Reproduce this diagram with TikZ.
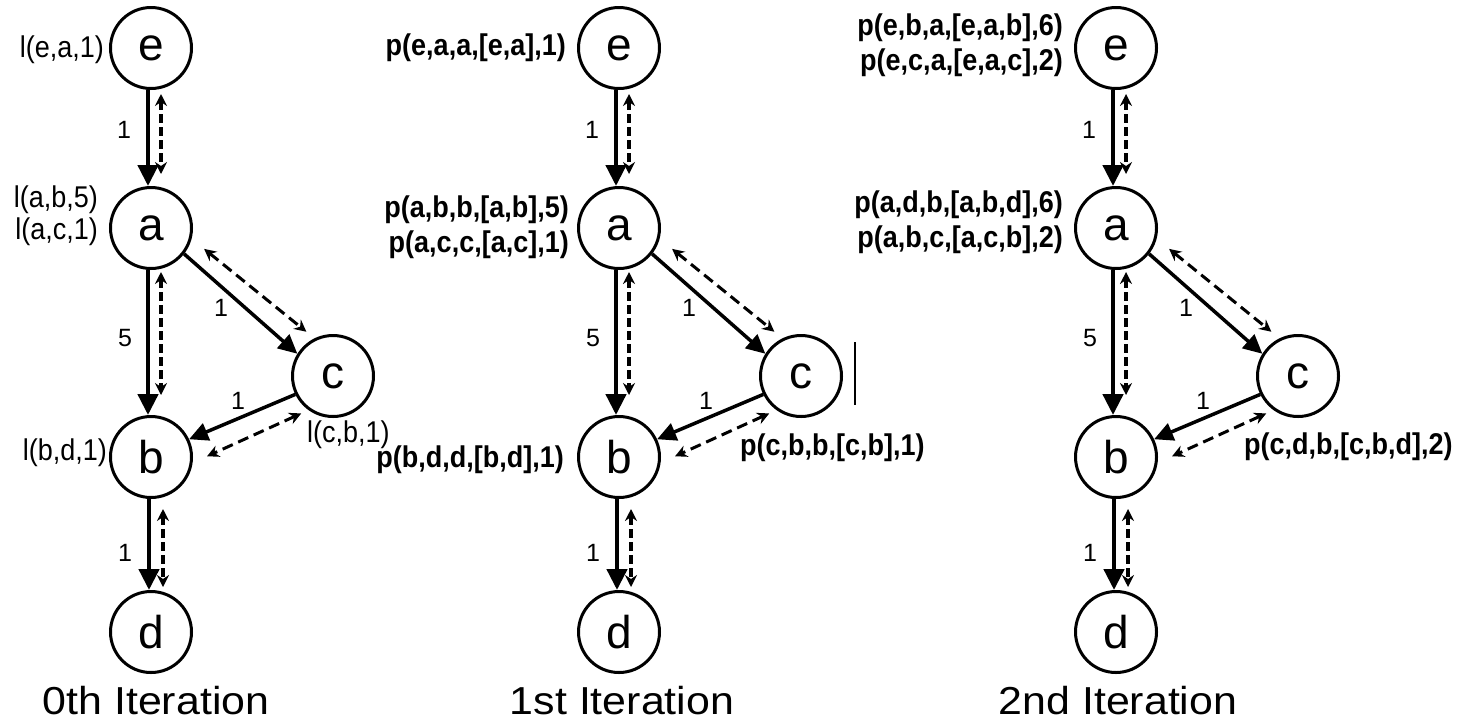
\documentclass[tikz,border=0pt]{standalone}
\usepackage{fontspec}
\setmainfont{Liberation Sans}
\newfontfamily\labfont[FakeStretch=0.9]{Liberation Sans}
\newfontfamily\titfont[FakeStretch=1.1]{Liberation Sans}
\usetikzlibrary{arrows.meta}
\tikzset{
  vtx/.style={circle, draw, line width=3pt, minimum size=81pt, inner sep=0pt,
    font=\fontsize{46}{46}\selectfont},
  solidv/.style={line width=4.5pt, -{Triangle[length=21pt,width=20pt]}},
  solidd/.style={line width=3.5pt, -{Triangle[length=19pt,width=18pt]}},
  dashv/.style={line width=3.2pt, dash pattern=on 9pt off 4pt,
    {Stealth[length=12pt,width=12pt,inset=4pt]}-{Stealth[length=12pt,width=12pt,inset=4pt]}},
  dashd/.style={line width=3pt, dash pattern=on 11pt off 6pt,
    {Stealth[length=12pt,width=12pt,inset=4pt]}-{Stealth[length=12pt,width=12pt,inset=4pt]}},
  elab/.style={inner sep=0pt, font=\fontsize{25}{25}\selectfont},
  llab/.style={inner sep=0pt, align=right, font=\labfont\fontsize{30}{32}\selectfont},
  blab/.style={inner sep=0pt, align=right, font=\labfont\bfseries\fontsize{30}{35}\selectfont},
  tit/.style={inner sep=0pt, anchor=base, font=\titfont\fontsize{39}{39}\selectfont},
}
\newcommand\drawpanel[2]{%
  \node[vtx] (#1e) at (#2,48) {e};
  \node[vtx] (#1a) at (#2,228) {a};
  \node[vtx] (#1c) at (#2+182,376) {c};
  \node[vtx] (#1b) at (#2,457) {b};
  \node[vtx] (#1d) at (#2,632) {d};
  % e -- a
  \draw[solidv] ([xshift=-3pt]#1e.south) -- ([xshift=-3pt]#1a.north);
  \draw[dashv] ([xshift=10pt,yshift=-4pt]#1e.south) -- ([xshift=10pt,yshift=12pt]#1a.north);
  % a -- b
  \draw[solidv] ([xshift=-3pt]#1a.south) -- ([xshift=-3pt]#1b.north);
  \draw[dashv] ([xshift=10pt,yshift=-2pt]#1a.south) -- ([xshift=10pt,yshift=20pt]#1b.north);
  % b -- d
  \draw[solidv] ([xshift=-2pt]#1b.south) -- ([xshift=-2pt]#1d.north);
  \draw[dashv] ([xshift=12pt,yshift=-10pt]#1b.south) -- ([xshift=12pt,yshift=3pt]#1d.north);
  % a -- c
  \draw[solidd] (#1a.-38) -- (#1c.148);
  \draw[dashd] ([xshift=20pt,yshift=5pt]#1a.-38) -- ([xshift=9pt,yshift=22pt]#1c.148);
  % c -- b
  \draw[solidd] (#1c.206) -- (#1b.25);
  \draw[dashd] ([xshift=6pt,yshift=-19pt]#1c.206) -- ([xshift=18pt,yshift=-17pt]#1b.25);
  % edge weights
  \node[elab] (#1w1) at (#2-27,130) {1};
  \node[elab] (#1w2) at (#2-26,338) {5};
  \node[elab] (#1w3) at (#2+70,308) {1};
  \node[elab] (#1w4) at (#2+87,401) {1};
  \node[elab] (#1w5) at (#2-26,553) {1};
}
\begin{document}
\begin{tikzpicture}[x=1pt,y=-1pt]
\useasboundingbox (0,0) rectangle (1464,724);
\drawpanel{P}{151}
\drawpanel{Q}{619}
\drawpanel{R}{1116}
% panel 1 labels
\node[llab, anchor=east] (Le) at (104,50) {l(e,a,1)};
\node[llab, anchor=east] (La) at (98,216) {l(a,b,5)\\l(a,c,1)};
\node[llab, anchor=east] (Lb) at (107,453) {l(b,d,1)};
\node[llab, anchor=west] (Lc) at (307,435) {l(c,b,1)};
% panel 2 labels
\node[blab, anchor=east] (Me) at (566,48) {p(e,a,a,[e,a],1)};
\node[blab, anchor=east] (Ma) at (569,227) {p(a,b,b,[a,b],5)\\p(a,c,c,[a,c],1)};
\node[blab, anchor=east] (Mb) at (564,460) {p(b,d,d,[b,d],1)};
\node[blab, anchor=west] (Mc) at (740,448) {p(c,b,b,[c,b],1)};
\draw[line width=2pt] (855,342) -- (855,405);
% panel 3 labels
\node[blab, anchor=east] (Ne) at (1063,45) {p(e,b,a,[e,a,b],6)\\p(e,c,a,[e,a,c],2)};
\node[blab, anchor=east] (Na) at (1063,222) {p(a,d,b,[a,b,d],6)\\p(a,b,c,[a,c,b],2)};
\node[blab, anchor=west] (Nc) at (1244,447) {p(c,d,b,[c,b,d],2)};
% titles
\node[tit] (T0) at (156,714) {0th Iteration};
\node[tit] (T1) at (622,714) {1st Iteration};
\node[tit] (T2) at (1118,714) {2nd Iteration};
\end{tikzpicture}
\end{document}
